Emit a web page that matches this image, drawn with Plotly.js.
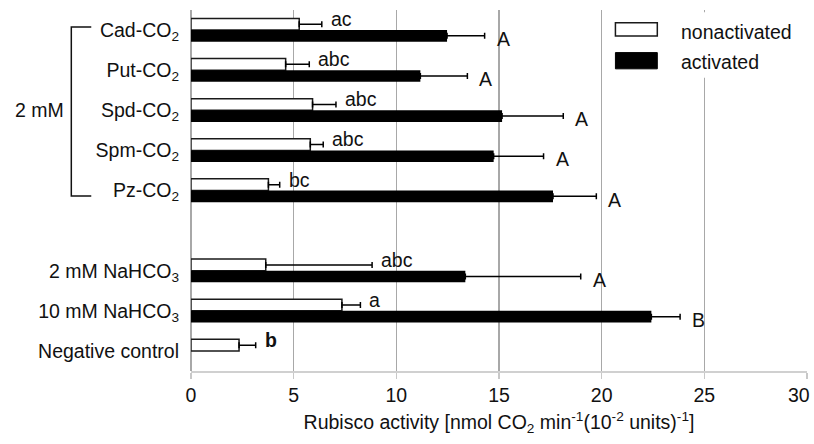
<!DOCTYPE html>
<html>
<head>
<meta charset="utf-8">
<script src="https://cdn.plot.ly/plotly-3.0.1.min.js"></script>
<style>html,body{margin:0;padding:0;background:#fff;}#chart{width:814px;height:444px;}</style>
</head>
<body>
<div id="chart"></div>
<script>
const categories = ['Cad-CO<sub>2</sub>', 'Put-CO<sub>2</sub>', 'Spd-CO<sub>2</sub>', 'Spm-CO<sub>2</sub>', 'Pz-CO<sub>2</sub>', ' ', '2 mM NaHCO<sub>3</sub>', '10 mM NaHCO<sub>3</sub>', 'Negative control'];
const nonactivated = [5.27, 4.61, 5.92, 5.81, 3.77, null, 3.64, 7.35, 2.34];
const nonactivatedErr = [1.1, 1.15, 1.14, 0.63, 0.55, null, 5.18, 0.9, 0.81];
const activated = [12.47, 11.17, 15.15, 14.74, 17.63, null, 13.36, 22.42, null];
const activatedErr = [1.83, 2.29, 2.98, 2.43, 2.11, null, 5.62, 1.4, null];
const lettersNon = ['ac', 'abc', 'abc', 'abc', 'bc', '', 'abc', 'a', '<b>b</b>'];
const lettersAct = ['A', 'A', 'A', 'A', 'A', '', 'A', 'B', ''];
const seriesNames = ['nonactivated', 'activated'];
const xTicks = [0, 5, 10, 15, 20, 25, 30];
const xTickText = ['0', '5', '10', '15', '20', '25', ''];
const lastTickLabel = '30';
const xTitle = 'Rubisco activity [nmol CO<sub>2</sub> min<sup>-1</sup>(10<sup>-2</sup> units)<sup>-1</sup>]';
const groupLabel = '2 mM';

const FONT = 'Liberation Sans, Arial, sans-serif';
const FS = 19.5;
const zeros = categories.map(() => 0);

const traces = [
  {
    type: 'bar', orientation: 'h', name: seriesNames[0],
    y: categories, x: nonactivated,
    marker: {color: '#ffffff', line: {color: '#1a1a1a', width: 1.5}},
    error_x: {type: 'data', symmetric: false, array: nonactivatedErr, arrayminus: zeros, color: '#000', thickness: 1.5, width: 3},
    hoverinfo: 'skip'
  },
  {
    type: 'bar', orientation: 'h', name: seriesNames[1],
    y: categories, x: activated,
    marker: {color: '#000000', line: {color: '#000', width: 0}},
    error_x: {type: 'data', symmetric: false, array: activatedErr, arrayminus: zeros, color: '#000', thickness: 1.5, width: 3},
    hoverinfo: 'skip'
  }
];

const annotations = [];
categories.forEach((c, i) => {
  if (lettersNon[i]) annotations.push({
    x: nonactivated[i] + nonactivatedErr[i], y: i, xref: 'x', yref: 'y',
    text: lettersNon[i], showarrow: false, xanchor: 'left', yanchor: 'middle',
    xshift: 7, yshift: 11, font: {family: FONT, size: FS, color: '#111'}
  });
  if (lettersAct[i]) annotations.push({
    x: activated[i] + activatedErr[i], y: i, xref: 'x', yref: 'y',
    text: lettersAct[i], showarrow: false, xanchor: 'left', yanchor: 'middle',
    xshift: 10, yshift: -9, font: {family: FONT, size: FS, color: '#111'}
  });
});
// last x tick label, nudged inside the page like the reference
annotations.push({x: xTicks[xTicks.length - 1], y: 0, xref: 'x', yref: 'paper', text: lastTickLabel, showarrow: false, xanchor: 'center', yanchor: 'middle', xshift: -8, yshift: -24, font: {family: FONT, size: FS, color: '#111'}});
// custom legend text
annotations.push({x: 0.792, y: 0.94, xref: 'paper', yref: 'paper', text: seriesNames[0], showarrow: false, xanchor: 'left', yanchor: 'middle', font: {family: FONT, size: FS, color: '#111'}});
annotations.push({x: 0.792, y: 0.857, xref: 'paper', yref: 'paper', text: seriesNames[1], showarrow: false, xanchor: 'left', yanchor: 'middle', font: {family: FONT, size: FS, color: '#111'}});
// group label
annotations.push({x: -0.2455, y: 0.723, xref: 'paper', yref: 'paper', text: groupLabel, showarrow: false, xanchor: 'center', yanchor: 'middle', font: {family: FONT, size: FS, color: '#111'}});

const shapes = [
  // legend background
  {type: 'rect', xref: 'paper', yref: 'paper', x0: 0.678, x1: 0.988, y0: 0.812, y1: 0.994, fillcolor: '#fff', line: {width: 0}, layer: 'above'},
  {type: 'rect', xref: 'paper', yref: 'paper', x0: 0.689, x1: 0.757, y0: 0.928, y1: 0.965, fillcolor: '#fff', line: {color: '#1a1a1a', width: 1.5}, layer: 'above'},
  {type: 'rect', xref: 'paper', yref: 'paper', x0: 0.689, x1: 0.757, y0: 0.837, y1: 0.882, fillcolor: '#000', line: {color: '#000', width: 1}, layer: 'above'},
  // bracket
  {type: 'path', xref: 'paper', yref: 'paper', path: 'M -0.1619 0.9529 L -0.1943 0.9529 L -0.1943 0.4848 L -0.1619 0.4848', line: {color: '#111', width: 1.5}}
];

const layout = {
  width: 814, height: 444,
  margin: {l: 191, r: 7, t: 10, b: 73},
  paper_bgcolor: '#fff', plot_bgcolor: '#fff',
  barmode: 'group', bargap: 0.42, bargroupgap: 0,
  showlegend: false,
  font: {family: FONT, size: FS, color: '#111'},
  xaxis: {
    range: [0, 30], tickvals: xTicks, ticktext: xTickText,
    showgrid: true, gridcolor: '#a8a8a8', gridwidth: 1.5,
    zeroline: true, zerolinecolor: '#a8a8a8', zerolinewidth: 1.5,
    showline: true, linecolor: '#d0d0d0', linewidth: 2,
    ticks: 'outside', ticklen: 6, tickcolor: '#c8c8c8', tickwidth: 1.5,
    tickfont: {family: FONT, size: FS, color: '#111'},
    title: {text: xTitle, font: {family: FONT, size: FS, color: '#111'}, standoff: 10},
    automargin: false, fixedrange: true
  },
  yaxis: {
    type: 'category', categoryorder: 'array', categoryarray: categories,
    range: [8.5, -0.5], showgrid: false, zeroline: false,
    showline: false, ticks: '', ticklabelstandoff: 11,
    tickfont: {family: FONT, size: FS, color: '#111'},
    automargin: false, fixedrange: true
  },
  annotations: annotations,
  shapes: shapes
};

Plotly.newPlot('chart', traces, layout, {displayModeBar: false, staticPlot: true});
</script>
</body>
</html>
